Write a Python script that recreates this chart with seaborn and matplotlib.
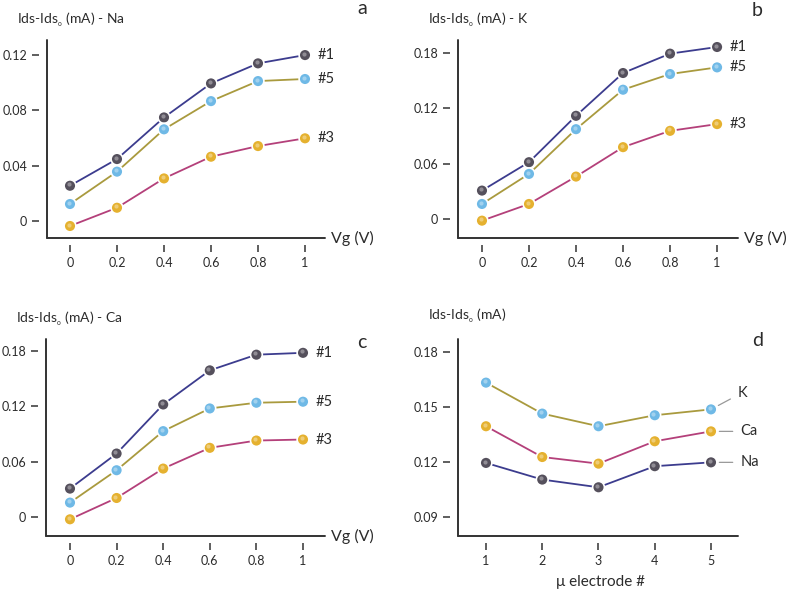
import numpy as np
import pandas as pd
import matplotlib
matplotlib.use("Agg")
import matplotlib.pyplot as plt
import matplotlib.transforms as mtransforms
import seaborn as sns

# values
vg = [0, 0.2, 0.4, 0.6, 0.8, 1]
na_1 = [0.0255, 0.0448, 0.0749, 0.0995, 0.114, 0.120]
na_5 = [0.0123, 0.0357, 0.0663, 0.0867, 0.1012, 0.1027]
na_3 = [-0.0036, 0.0096, 0.0308, 0.0465, 0.0542, 0.0598]

k_1 = [0.0308, 0.0616, 0.1119, 0.1583, 0.1793, 0.1865]
k_5 = [0.0163, 0.0489, 0.0974, 0.1402, 0.1572, 0.1644]
k_3 = [-0.0018, 0.0163, 0.046, 0.0779, 0.0956, 0.1029]

ca_1 = [0.0308, 0.0688, 0.122, 0.159, 0.176, 0.178]
ca_5 = [0.0156, 0.0507, 0.0931, 0.1177, 0.1239, 0.125]
ca_3 = [-0.0025, 0.0206, 0.0525, 0.075, 0.0829, 0.084]

electrode = [1, 2, 3, 4, 5]
d_k = [0.1633, 0.1464, 0.1395, 0.1455, 0.1487]
d_ca = [0.1395, 0.1227, 0.1191, 0.1313, 0.1367]
d_na = [0.1195, 0.1104, 0.1062, 0.1177, 0.1198]

vg_ticks = [0, 0.2, 0.4, 0.6, 0.8, 1]
vg_ticklabels = ["0", "0.2", "0.4", "0.6", "0.8", "1"]

sns.set_style("white")
plt.rcParams['font.family'] = ['Lato', 'DejaVu Sans']
plt.rcParams['mathtext.fontset'] = 'custom'
plt.rcParams['mathtext.rm'] = 'Lato'
plt.rcParams['mathtext.it'] = 'Lato'

line_cols = {"#1": "#3c3c8e", "#5": "#a99a3e", "#3": "#b4407a",
             "Na": "#3c3c8e", "K": "#a99a3e", "Ca": "#b4407a"}
ball_cols = {"#1": "#55505c", "#5": "#6fb9e6", "#3": "#e5b12f",
             "Na": "#55505c", "K": "#6fb9e6", "Ca": "#e5b12f"}
text_col = "#2b2b2b"
ylab = "Ids-Ids$_{_{\\mathregular{o}}}$ (mA)"

W, H = 787, 593
fig = plt.figure(figsize=(W / 100, H / 100), dpi=100)


def make_ax(left, top, right, bottom, xlim, ylim):
    ax = fig.add_axes([left / W, 1 - bottom / H, (right - left) / W, (bottom - top) / H])
    ax.set_xlim(*xlim)
    ax.set_ylim(*ylim)
    for s in ax.spines.values():
        s.set_visible(False)
    # detached axis lines, the ticks sit outside them
    fx = 8 / (right - left)
    fy = 7 / (bottom - top)
    ax.plot([fx, fx], [fy, 1], color="#333333", lw=1.4, transform=ax.transAxes, clip_on=False)
    ax.plot([fx, 1], [fy, fy], color="#333333", lw=1.4, transform=ax.transAxes, clip_on=False)
    ax.tick_params(axis="both", direction="out", length=5, width=1.1, color="#333333",
                   labelsize=9, labelcolor=text_col, pad=3.5,
                   left=True, bottom=True)
    return ax


def draw_series(ax, x, series):
    rows = []
    for name, vals in series.items():
        for xi, yi in zip(x, vals):
            rows.append({"x": xi, "y": yi, "s": name})
    df = pd.DataFrame(rows)
    sns.lineplot(data=df, x="x", y="y", hue="s", palette=line_cols, lw=1.3,
                 legend=False, ax=ax, zorder=2)
    sns.scatterplot(data=df, x="x", y="y", hue="s", palette=ball_cols, s=72,
                    edgecolor="white", linewidth=1.2, legend=False, ax=ax, zorder=3)
    # small highlight to hint at the shaded balls
    off = mtransforms.ScaledTranslation(-1.4 / 100, 1.4 / 100, fig.dpi_scale_trans)
    ax.scatter(df["x"], df["y"], s=9, color="white", alpha=0.35, lw=0,
               transform=ax.transData + off, zorder=4)
    ax.set_xlabel("")
    ax.set_ylabel("")


def vg_panel(left, top, right, bottom, xlim, ylim, yticks, yticklabels, series, ion, letter, letter_xy):
    ax = make_ax(left, top, right, bottom, xlim, ylim)
    draw_series(ax, vg, series)
    ax.set_xticks(vg_ticks)
    ax.set_xticklabels(vg_ticklabels)
    ax.set_yticks(yticks)
    ax.set_yticklabels(yticklabels)
    for name, vals in series.items():
        ax.annotate(name, (vg[-1], vals[-1]), xytext=(9, 0), textcoords="offset points",
                    va="center", ha="left", fontsize=10.5, color=text_col)
    ax.annotate("Vg (V)", (1.0, 7 / (bottom - top)), xycoords="axes fraction",
                xytext=(4, 0), textcoords="offset points", ha="left",
                va="center", fontsize=11.5, color=text_col)
    fig.text(left / W - 22 / W, 1 - (top - 20) / H, ylab + " - " + ion,
             fontsize=10, color=text_col, ha="left", va="center")
    fig.text(letter_xy[0] / W, 1 - letter_xy[1] / H, letter, fontsize=14, color=text_col,
             ha="center", va="center")
    return ax


vg_panel(39, 40, 325, 245, (-0.1319, 1.0851), (-0.01735, 0.1309),
         [0, 0.04, 0.08, 0.12], ["0", "0.04", "0.08", "0.12"],
         {"#1": na_1, "#5": na_5, "#3": na_3}, "Na", "a", (362, 9))

vg_panel(450, 40, 738, 245, (-0.136, 1.089), (-0.0282, 0.1941),
         [0, 0.06, 0.12, 0.18], ["0", "0.06", "0.12", "0.18"],
         {"#1": k_1, "#5": k_5, "#3": k_3}, "K", "b", (757, 11))

vg_panel(38, 339, 325, 543, (-0.1373, 1.0944), (-0.0282, 0.1930),
         [0, 0.06, 0.12, 0.18], ["0", "0.06", "0.12", "0.18"],
         {"#1": ca_1, "#5": ca_5, "#3": ca_3}, "Ca", "c", (362, 342))

# panel d
ax = make_ax(450, 339, 738, 543, (0.36, 5.48), (0.0758, 0.1871))
d_series = {"K": d_k, "Ca": d_ca, "Na": d_na}
draw_series(ax, electrode, d_series)
ax.set_xticks(electrode)
ax.set_xticklabels([str(e) for e in electrode])
ax.set_yticks([0.09, 0.12, 0.15, 0.18])
ax.set_yticklabels(["0.09", "0.12", "0.15", "0.18"])
d_offsets = {"K": (19, 12), "Ca": (21, 0), "Na": (21, 0)}
for name, vals in d_series.items():
    ax.annotate(name, (electrode[-1], vals[-1]), xytext=d_offsets[name],
                textcoords="offset points", va="center", ha="left", fontsize=10.5,
                color=text_col,
                arrowprops=dict(arrowstyle="-", color="#999999", lw=0.9,
                                shrinkA=3, shrinkB=6))
fig.text(600 / W, 1 - 582 / H, "\u03bc electrode #", fontsize=11, color=text_col,
         ha="center", va="center")
fig.text(428 / W, 1 - 316 / H, ylab, fontsize=10,
         color=text_col, ha="left", va="center")
fig.text(758 / W, 1 - 340 / H, "d", fontsize=14, color=text_col, ha="center", va="center")

fig.savefig("out.png", dpi=100)
